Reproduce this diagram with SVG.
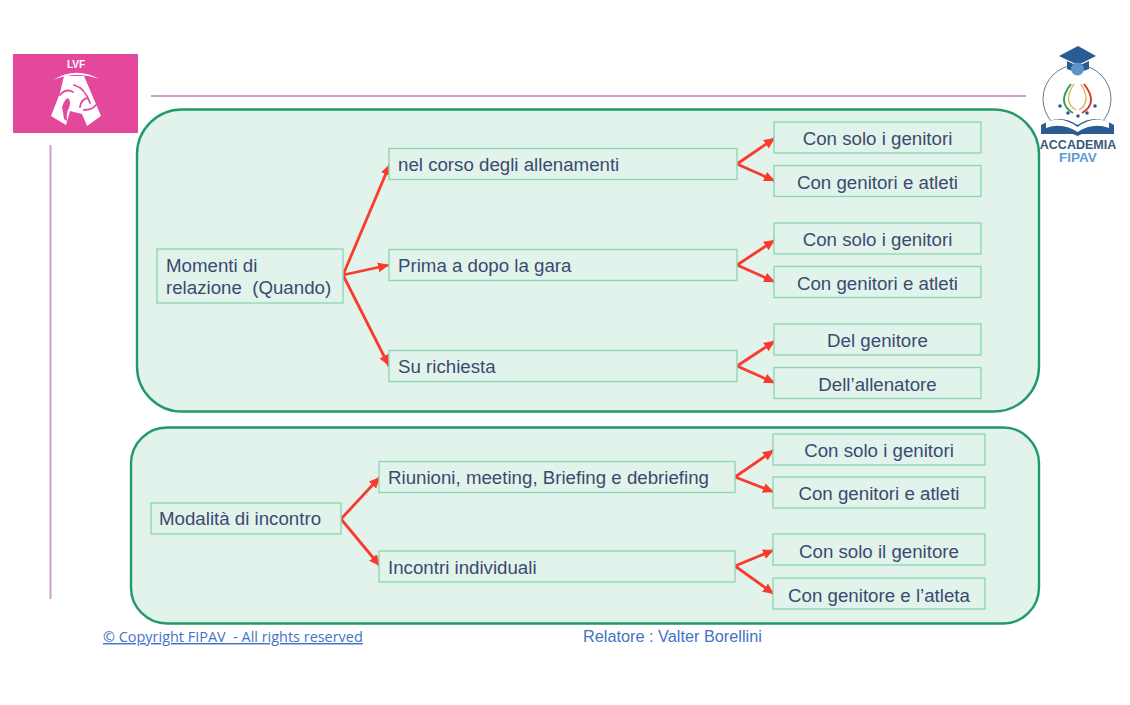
<svg xmlns="http://www.w3.org/2000/svg" width="1130" height="705" viewBox="0 0 1130 705">
<style>
text{font-family:"Liberation Sans",Arial,sans-serif;white-space:pre}
.panel{fill:#e2f3eb;stroke:#22996b;stroke-width:2.4}
.box{fill:#e2f3eb;stroke:#8fd6b8;stroke-width:1.4}
.t{font-size:18.700px;fill:#3b4a70}
.m{text-anchor:middle}
.c{fill:none;stroke:#fb3a2e;stroke-width:2.800;marker-end:url(#a)}
.rule{stroke:#cf9fd0;stroke-width:2;fill:none}
.cut{fill:none;stroke:#e4489c;stroke-linecap:round}
</style>
<defs><marker id="a" markerUnits="userSpaceOnUse" markerWidth="13" markerHeight="11" refX="11" refY="5.500" orient="auto"><path d="M0 0.500L11 5.500L0 10.500Z" fill="#fb3a2e"/></marker></defs>
<rect width="1130" height="705" fill="#fff"/>
<path class="rule" d="M151 96H1026M50.500 145V599"/>
<g id="logo-lvf">
<rect x="13" y="54" width="125" height="79" fill="#e4489c"/>
<text x="76" y="68" font-size="10px" font-weight="700" fill="#fff" text-anchor="middle">LVF</text>
<path d="M53 80Q76 66 99 79Q76 70.500 53 80Z" fill="#fff"/>
<path d="M64 76H84L101 116L87 126L82 114L70 111L66 125L51 116L60 93Z" fill="#fff"/>
<path class="cut" stroke-width="1.800" d="M74 85Q85 88 90 103M84 110Q92 110 96 105M80 107Q81 99 88 98M60 95Q66 88 73 92"/>
<path d="M62 107Q66 96 69 99Q71 102 69 108Q66 113 67 121L64 119Q63 112 62 107Z" fill="#e4489c"/>
</g>
<g id="logo-accademia">
<circle cx="1077" cy="99" r="34" fill="#fff" stroke="#5b6b80" stroke-width="0.900"/>
<path d="M1059 56L1078 46L1096 56L1078 65Z" fill="#2a5b92"/>
<path d="M1067 61L1078 66L1089 61V69L1078 73L1067 69Z" fill="#2a5b92"/>
<circle cx="1077.500" cy="69" r="6.500" fill="#5f94c8"/>
<path d="M1071 84Q1056 103 1073 113" fill="none" stroke="#2f9e58" stroke-width="2"/>
<path d="M1084 84Q1099 103 1082 113" fill="none" stroke="#d33a32" stroke-width="2"/>
<path d="M1074 84Q1062 102 1076 110M1081 84Q1092 102 1079 110" fill="none" stroke="#d8b25a" stroke-width="1.300"/>
<g fill="#2a5b92"><circle cx="1060" cy="106" r="1.800"/><circle cx="1068" cy="113" r="1.800"/><circle cx="1078" cy="116" r="1.800"/><circle cx="1087" cy="113" r="1.800"/><circle cx="1095" cy="106" r="1.800"/></g>
<path d="M1041 125Q1060 113 1077.500 125Q1095 113 1114 125V134H1082L1077.500 136L1073 134H1041Z" fill="#2a5b92"/>
<path d="M1046 122Q1062 115 1077.500 127Q1093 115 1109 122V128Q1093 122 1077.500 132Q1062 122 1046 128Z" fill="#fff"/>
<text x="1078" y="148.500" font-size="12.500px" font-weight="700" fill="#355a7c" text-anchor="middle">ACCADEMIA</text>
<text x="1078" y="162" font-size="13.500px" font-weight="700" fill="#5f9bd3" text-anchor="middle">FIPAV</text>
</g>
<g id="panel-quando"><rect class="panel" x="137" y="109.500" width="902" height="302" rx="45"/></g>
<g id="panel-modalita"><rect class="panel" x="131" y="427.500" width="908" height="196" rx="36"/></g>
<g id="connectors">
<path class="c" d="M343 275L390 164"/><path class="c" d="M343 275L389 265"/><path class="c" d="M343 275L389 366"/>
<path class="c" d="M737 164L775 138"/><path class="c" d="M737 164L775 181"/>
<path class="c" d="M737 265L775 240"/><path class="c" d="M737 265L775 282"/>
<path class="c" d="M737 366L775 341"/><path class="c" d="M737 366L775 383"/>
<path class="c" d="M341 519L380 477"/><path class="c" d="M341 519L380 566"/>
<path class="c" d="M735 477L774 450"/><path class="c" d="M735 477L774 492"/>
<path class="c" d="M735 566L774 550"/><path class="c" d="M735 566L774 594"/>
</g>
<g id="n-momenti"><rect class="box" x="157" y="249" width="186" height="54"/><text class="t" x="166" y="272">Momenti di</text><text class="t" x="166" y="294">relazione  (Quando)</text></g>
<g id="n-allenamenti"><rect class="box" x="389" y="148.500" width="348" height="31"/><text class="t" x="398" y="171">nel corso degli allenamenti</text></g>
<g id="n-gara"><rect class="box" x="389" y="249.500" width="348" height="31"/><text class="t" x="398" y="272">Prima a dopo la gara</text></g>
<g id="n-richiesta"><rect class="box" x="389" y="350.500" width="348" height="31"/><text class="t" x="398" y="373">Su richiesta</text></g>
<g id="n-a1"><rect class="box" x="774" y="122" width="207" height="31"/><text class="t m" x="877.500" y="145">Con solo i genitori</text></g>
<g id="n-a2"><rect class="box" x="774" y="165.500" width="207" height="31"/><text class="t m" x="877.500" y="188.500">Con genitori e atleti</text></g>
<g id="n-b1"><rect class="box" x="774" y="223" width="207" height="31"/><text class="t m" x="877.500" y="246">Con solo i genitori</text></g>
<g id="n-b2"><rect class="box" x="774" y="266.500" width="207" height="31"/><text class="t m" x="877.500" y="289.500">Con genitori e atleti</text></g>
<g id="n-c1"><rect class="box" x="774" y="324" width="207" height="31"/><text class="t m" x="877.500" y="346.500">Del genitore</text></g>
<g id="n-c2"><rect class="box" x="774" y="367.500" width="207" height="31"/><text class="t m" x="877.500" y="390.500">Dell’allenatore</text></g>
<g id="n-modalita"><rect class="box" x="151" y="503" width="190" height="31"/><text class="t" x="159" y="525">Modalità di incontro</text></g>
<g id="n-riunioni"><rect class="box" x="379" y="461.500" width="356" height="31"/><text class="t" x="388" y="484">Riunioni, meeting, Briefing e debriefing</text></g>
<g id="n-individuali"><rect class="box" x="379" y="551" width="356" height="31"/><text class="t" x="388" y="574">Incontri individuali</text></g>
<g id="n-d1"><rect class="box" x="773" y="434" width="212" height="31"/><text class="t m" x="879" y="457">Con solo i genitori</text></g>
<g id="n-d2"><rect class="box" x="773" y="477" width="212" height="31"/><text class="t m" x="879" y="500">Con genitori e atleti</text></g>
<g id="n-e1"><rect class="box" x="773" y="534" width="212" height="31"/><text class="t m" x="879" y="558">Con solo il genitore</text></g>
<g id="n-e2"><rect class="box" x="773" y="578" width="212" height="31"/><text class="t m" x="879" y="602">Con genitore e l’atleta</text></g>
<text x="103" y="642" font-size="14.450px" fill="#4472c4" text-decoration="underline" style="font-family:'Open Sans','Liberation Sans',sans-serif">© Copyright FIPAV  - All rights reserved</text>
<text x="583" y="642" font-size="16.300px" fill="#4472c4">Relatore : Valter Borellini</text>
</svg>
